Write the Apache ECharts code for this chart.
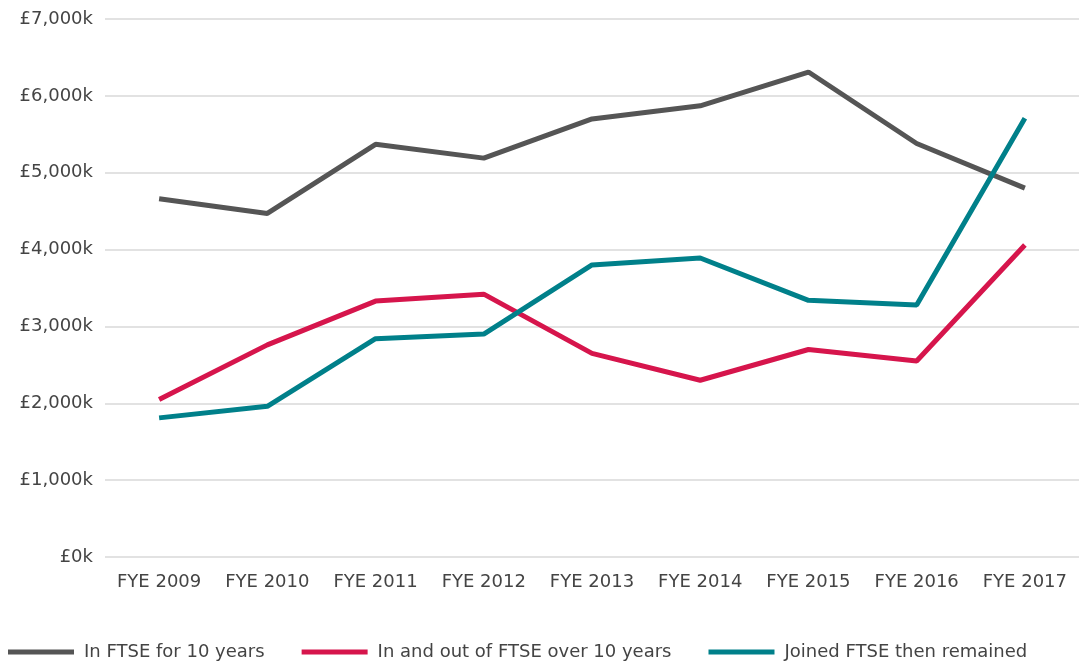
<!DOCTYPE html>
<html><head><meta charset="utf-8">
<script src="https://cdn.jsdelivr.net/npm/echarts@6/dist/echarts.min.js"></script>
<style>html,body{margin:0;padding:0;background:#fff}#c{width:1079px;height:662px}</style>
</head><body><div id="c"></div>
<script>
const categories = ['FYE 2009','FYE 2010','FYE 2011','FYE 2012','FYE 2013','FYE 2014','FYE 2015','FYE 2016','FYE 2017'];
const inFtse10 = [4660, 4470, 5370, 5190, 5700, 5870, 6310, 5380, 4800];
const inAndOut = [2050, 2760, 3330, 3420, 2650, 2300, 2700, 2550, 4060];
const joinedRemained = [1810, 1960, 2840, 2900, 3800, 3890, 3340, 3280, 5710];
const seriesNames = ['In FTSE for 10 years','In and out of FTSE over 10 years','Joined FTSE then remained'];
const colors = ['#555555','#d6154c','#00808a'];
const font = 'DejaVu Sans';
const chart = echarts.init(document.getElementById('c'));
chart.setOption({
  animation:false,
  color: colors,
  grid:{left:105, top:19, width:982, bottom:105, containLabel:false},
  legend:{left:3, top:638, itemWidth:66, itemHeight:5, itemGap:37, icon:'rect',
    textStyle:{fontFamily:font, fontSize:18, color:'#444', padding:[0,0,0,5]}},
  xAxis:{type:'category', data:categories, boundaryGap:true,
    axisLine:{show:false}, axisTick:{show:false},
    axisLabel:{interval:0, fontFamily:font, fontSize:18, color:'#444', margin:16}},
  yAxis:{type:'value', min:0, max:7000, interval:1000,
    axisLabel:{fontFamily:font, fontSize:18, color:'#444', margin:12,
      formatter: v => '£' + v.toLocaleString('en-GB') + 'k'},
    splitLine:{lineStyle:{color:'#d9d9d9', width:1.5}}},
  series:[
    {name:seriesNames[0], type:'line', data:inFtse10, symbol:'none', lineStyle:{width:5}},
    {name:seriesNames[1], type:'line', data:inAndOut, symbol:'none', lineStyle:{width:5}},
    {name:seriesNames[2], type:'line', data:joinedRemained, symbol:'none', lineStyle:{width:5}}
  ]
});
</script></body></html>
